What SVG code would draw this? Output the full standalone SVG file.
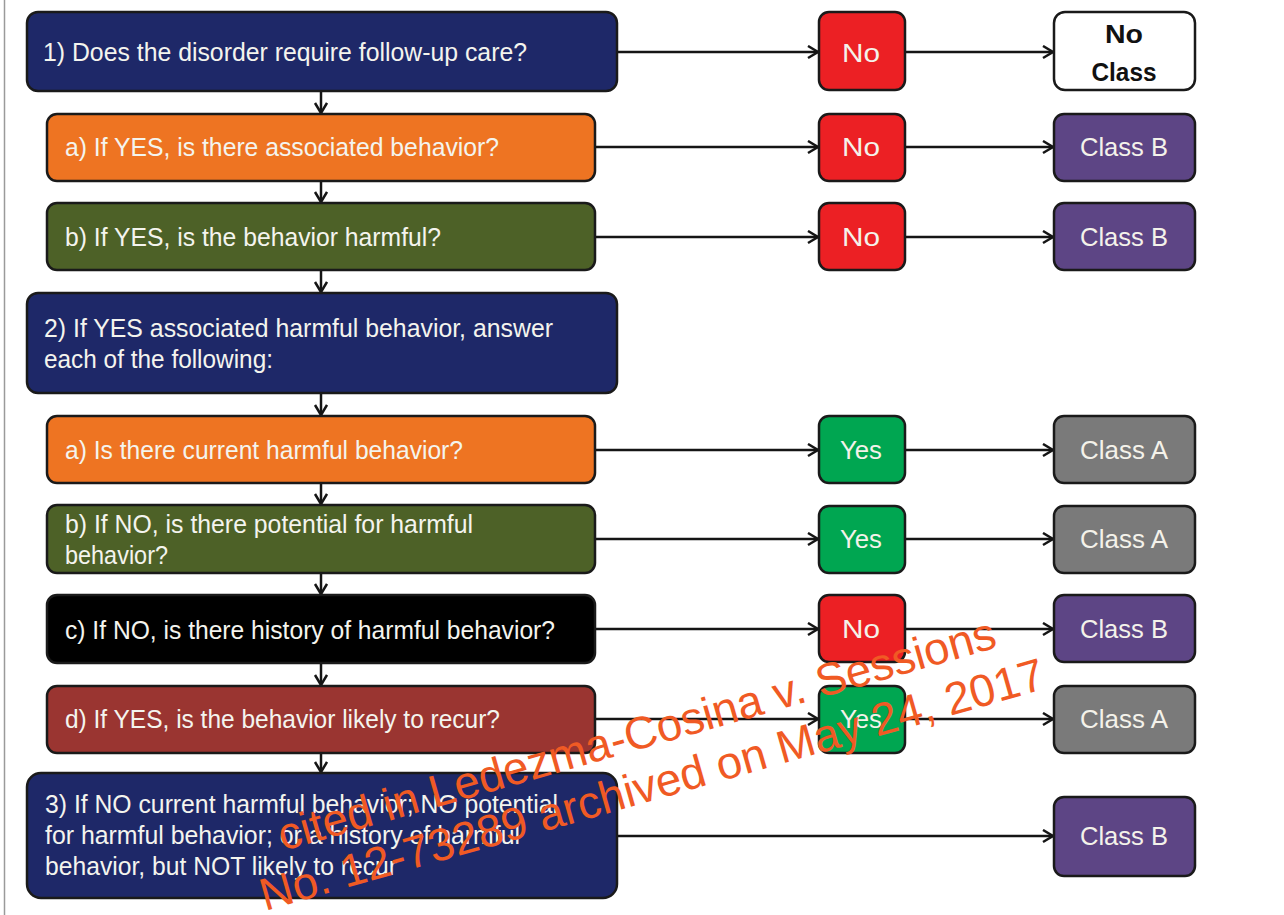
<svg xmlns="http://www.w3.org/2000/svg" width="1284" height="915" viewBox="0 0 1284 915">
<style>
.bx{stroke:#1a1a1a;stroke-width:2.5}
.navy{fill:#1e2868}
.orange{fill:#ee7422}
.olive{fill:#4d6127}
.black{fill:#000000}
.dred{fill:#9a3531}
.red{fill:#ec2024}
.green{fill:#00a651}
.purple{fill:#5d4585}
.gray{fill:#7a7a7a}
.white{fill:#ffffff}
.q{font-family:"Liberation Sans Narrow","Liberation Sans",Arial,sans-serif;font-size:25px;fill:#f4f4ee}
.s{font-family:"Liberation Sans",Arial,sans-serif;font-size:26px;fill:#f4f2ea;text-anchor:middle}
.nc{font-family:"Liberation Sans",Arial,sans-serif;font-size:26px;font-weight:bold;fill:#111;text-anchor:middle}
.ln{stroke:#151515;stroke-width:2.5;fill:none}
.wm{font-family:"Liberation Sans",Arial,sans-serif;font-size:45.6px;fill:#f05a24}
</style>
<defs>
<marker id="ah" markerUnits="userSpaceOnUse" markerWidth="14" markerHeight="16" refX="11" refY="7" orient="auto">
<path d="M1,1 L11,7 L1,13" fill="none" stroke="#151515" stroke-width="2.5"/>
</marker>
</defs>
<rect x="0" y="0" width="1284" height="915" fill="#ffffff"/>
<line x1="4.5" y1="0" x2="4.5" y2="915" stroke="#9a9a9a" stroke-width="1.5"/>

<g id="connectors">
<line class="ln" x1="321" y1="91" x2="321" y2="113" marker-end="url(#ah)"/>
<line class="ln" x1="321" y1="181" x2="321" y2="202" marker-end="url(#ah)"/>
<line class="ln" x1="321" y1="270" x2="321" y2="292" marker-end="url(#ah)"/>
<line class="ln" x1="321" y1="393" x2="321" y2="415" marker-end="url(#ah)"/>
<line class="ln" x1="321" y1="483" x2="321" y2="504" marker-end="url(#ah)"/>
<line class="ln" x1="321" y1="573" x2="321" y2="594" marker-end="url(#ah)"/>
<line class="ln" x1="321" y1="663" x2="321" y2="685" marker-end="url(#ah)"/>
<line class="ln" x1="321" y1="753" x2="321" y2="772" marker-end="url(#ah)"/>

<line class="ln" x1="617" y1="52" x2="818" y2="52" marker-end="url(#ah)"/>
<line class="ln" x1="905" y1="52" x2="1053" y2="52" marker-end="url(#ah)"/>
<line class="ln" x1="595" y1="147" x2="818" y2="147" marker-end="url(#ah)"/>
<line class="ln" x1="905" y1="147" x2="1053" y2="147" marker-end="url(#ah)"/>
<line class="ln" x1="595" y1="237" x2="818" y2="237" marker-end="url(#ah)"/>
<line class="ln" x1="905" y1="237" x2="1053" y2="237" marker-end="url(#ah)"/>
<line class="ln" x1="595" y1="450" x2="818" y2="450" marker-end="url(#ah)"/>
<line class="ln" x1="905" y1="450" x2="1053" y2="450" marker-end="url(#ah)"/>
<line class="ln" x1="595" y1="539" x2="818" y2="539" marker-end="url(#ah)"/>
<line class="ln" x1="905" y1="539" x2="1053" y2="539" marker-end="url(#ah)"/>
<line class="ln" x1="595" y1="629" x2="818" y2="629" marker-end="url(#ah)"/>
<line class="ln" x1="905" y1="629" x2="1053" y2="629" marker-end="url(#ah)"/>
<line class="ln" x1="595" y1="719" x2="818" y2="719" marker-end="url(#ah)"/>
<line class="ln" x1="905" y1="719" x2="1053" y2="719" marker-end="url(#ah)"/>
<line class="ln" x1="617" y1="836" x2="1053" y2="836" marker-end="url(#ah)"/>
</g>

<g id="q1"><rect class="bx navy" x="27" y="12" width="590" height="79" rx="11"/>
<text class="q" x="43" y="61" textLength="484" lengthAdjust="spacingAndGlyphs">1) Does the disorder require follow-up care?</text></g>
<g id="q1a"><rect class="bx orange" x="47" y="114" width="548" height="67" rx="10"/>
<text class="q" x="65" y="156" textLength="434" lengthAdjust="spacingAndGlyphs">a) If YES, is there associated behavior?</text></g>
<g id="q1b"><rect class="bx olive" x="47" y="203" width="548" height="67" rx="10"/>
<text class="q" x="65" y="246" textLength="376" lengthAdjust="spacingAndGlyphs">b) If YES, is the behavior harmful?</text></g>
<g id="q2"><rect class="bx navy" x="27" y="293" width="590" height="100" rx="11"/>
<text class="q" x="44" y="337" textLength="509" lengthAdjust="spacingAndGlyphs">2) If YES associated harmful behavior, answer</text>
<text class="q" x="44" y="368" textLength="229" lengthAdjust="spacingAndGlyphs">each of the following:</text></g>
<g id="q2a"><rect class="bx orange" x="47" y="416" width="548" height="67" rx="10"/>
<text class="q" x="65" y="459" textLength="398" lengthAdjust="spacingAndGlyphs">a) Is there current harmful behavior?</text></g>
<g id="q2b"><rect class="bx olive" x="47" y="505" width="548" height="68" rx="10"/>
<text class="q" x="65" y="533" textLength="408" lengthAdjust="spacingAndGlyphs">b) If NO, is there potential for harmful</text>
<text class="q" x="65" y="564" textLength="103" lengthAdjust="spacingAndGlyphs">behavior?</text></g>
<g id="q2c"><rect class="bx black" x="47" y="595" width="548" height="68" rx="10"/>
<text class="q" x="65" y="639" textLength="490" lengthAdjust="spacingAndGlyphs">c) If NO, is there history of harmful behavior?</text></g>
<g id="q2d"><rect class="bx dred" x="47" y="686" width="548" height="67" rx="10"/>
<text class="q" x="65" y="728" textLength="435" lengthAdjust="spacingAndGlyphs">d) If YES, is the behavior likely to recur?</text></g>
<g id="q3"><rect class="bx navy" x="27" y="773" width="590" height="125" rx="14"/>
<text class="q" x="45" y="813" textLength="513" lengthAdjust="spacingAndGlyphs">3) If NO current harmful behavior; NO potential</text>
<text class="q" x="45" y="844" textLength="475" lengthAdjust="spacingAndGlyphs">for harmful behavior; or a history of harmful</text>
<text class="q" x="45" y="875" textLength="352" lengthAdjust="spacingAndGlyphs">behavior, but NOT likely to recur</text></g>

<g id="a1"><rect class="bx red" x="819" y="12" width="86" height="78" rx="10"/>
<text class="s" x="861" y="62" textLength="38" lengthAdjust="spacingAndGlyphs">No</text></g>
<g id="a1a"><rect class="bx red" x="819" y="114" width="86" height="67" rx="10"/>
<text class="s" x="861" y="156" textLength="38" lengthAdjust="spacingAndGlyphs">No</text></g>
<g id="a1b"><rect class="bx red" x="819" y="203" width="86" height="67" rx="10"/>
<text class="s" x="861" y="246" textLength="38" lengthAdjust="spacingAndGlyphs">No</text></g>
<g id="a2a"><rect class="bx green" x="819" y="416" width="86" height="67" rx="10"/>
<text class="s" x="861" y="459" textLength="42" lengthAdjust="spacingAndGlyphs">Yes</text></g>
<g id="a2b"><rect class="bx green" x="819" y="506" width="86" height="67" rx="10"/>
<text class="s" x="861" y="548" textLength="42" lengthAdjust="spacingAndGlyphs">Yes</text></g>
<g id="a2c"><rect class="bx red" x="819" y="595" width="86" height="67" rx="10"/>
<text class="s" x="861" y="638" textLength="38" lengthAdjust="spacingAndGlyphs">No</text></g>
<g id="a2d"><rect class="bx green" x="819" y="686" width="86" height="67" rx="10"/>
<text class="s" x="861" y="728" textLength="42" lengthAdjust="spacingAndGlyphs">Yes</text></g>

<g id="c1"><rect class="bx white" x="1054" y="12" width="141" height="78" rx="11"/>
<text class="nc" x="1124" y="43" textLength="38" lengthAdjust="spacingAndGlyphs">No</text>
<text class="nc" x="1124" y="81" textLength="65" lengthAdjust="spacingAndGlyphs">Class</text></g>
<g id="c1a"><rect class="bx purple" x="1054" y="114" width="141" height="67" rx="10"/>
<text class="s" x="1124" y="156" textLength="88" lengthAdjust="spacingAndGlyphs">Class B</text></g>
<g id="c1b"><rect class="bx purple" x="1054" y="203" width="141" height="67" rx="10"/>
<text class="s" x="1124" y="246" textLength="88" lengthAdjust="spacingAndGlyphs">Class B</text></g>
<g id="c2a"><rect class="bx gray" x="1054" y="416" width="141" height="67" rx="10"/>
<text class="s" x="1124" y="459" textLength="88" lengthAdjust="spacingAndGlyphs">Class A</text></g>
<g id="c2b"><rect class="bx gray" x="1054" y="506" width="141" height="67" rx="10"/>
<text class="s" x="1124" y="548" textLength="88" lengthAdjust="spacingAndGlyphs">Class A</text></g>
<g id="c2c"><rect class="bx purple" x="1054" y="595" width="141" height="67" rx="10"/>
<text class="s" x="1124" y="638" textLength="88" lengthAdjust="spacingAndGlyphs">Class B</text></g>
<g id="c2d"><rect class="bx gray" x="1054" y="686" width="141" height="67" rx="10"/>
<text class="s" x="1124" y="728" textLength="88" lengthAdjust="spacingAndGlyphs">Class A</text></g>
<g id="c3"><rect class="bx purple" x="1054" y="797" width="141" height="79" rx="10"/>
<text class="s" x="1124" y="845" textLength="88" lengthAdjust="spacingAndGlyphs">Class B</text></g>

<g id="watermark">
<text class="wm" x="283" y="851" transform="rotate(-15.9 283 851)">cited in Ledezma-Cosina v. Sessions</text>
<text class="wm" x="265" y="911" transform="rotate(-15.9 265 911)">No. 12-73289 archived on May 24, 2017</text>
</g>
</svg>
